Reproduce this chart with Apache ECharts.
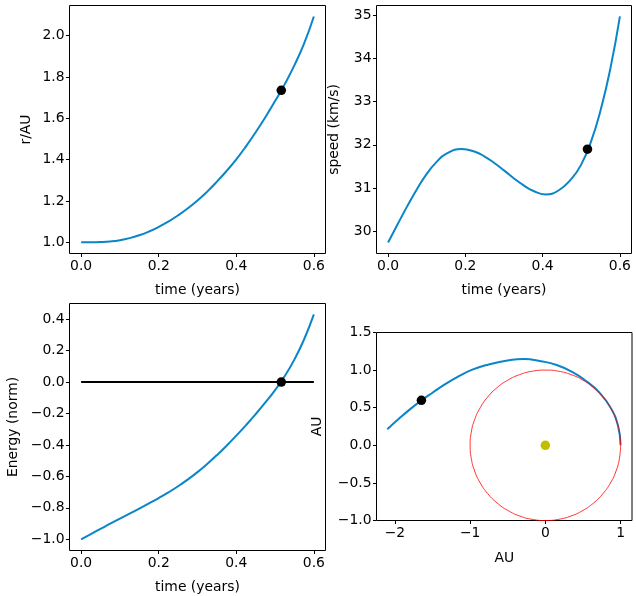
<!DOCTYPE html>
<html>
<head>
<meta charset="utf-8">
<script src="https://cdn.jsdelivr.net/npm/echarts@6/dist/echarts.min.js"></script>
<style>
html,body{margin:0;padding:0;background:#fff;}
#chart{width:636px;height:596px;}
</style>
</head>
<body>
<div id="chart"></div>
<script>
// ---- data ----
const timeYears = [0, 0.025, 0.05, 0.075, 0.1, 0.125, 0.15, 0.175, 0.2, 0.225, 0.25, 0.275, 0.3,
  0.325, 0.35, 0.375, 0.4, 0.425, 0.45, 0.475, 0.5, 0.525, 0.55, 0.575, 0.6];
const radiusAU = [1.000, 1.000, 1.001, 1.004, 1.010, 1.020, 1.034, 1.052, 1.074, 1.100, 1.130, 1.164, 1.202,
  1.245, 1.293, 1.345, 1.401, 1.464, 1.532, 1.605, 1.683, 1.765, 1.857, 1.962, 2.092];
const energyNorm = [-1.000, -0.967, -0.934, -0.901, -0.869, -0.837, -0.805, -0.772, -0.738, -0.702, -0.663, -0.620, -0.573,
  -0.521, -0.465, -0.405, -0.341, -0.274, -0.204, -0.130, -0.051, 0.038, 0.144, 0.272, 0.430];

const speedTime = [0, 0.025, 0.05, 0.075, 0.1, 0.125, 0.15, 0.19, 0.225, 0.25, 0.275, 0.3,
  0.325, 0.35, 0.375, 0.407, 0.44, 0.475, 0.5, 0.525, 0.55, 0.575, 0.6];
const speedKms = [29.745, 30.17, 30.59, 30.98, 31.33, 31.60, 31.79, 31.905, 31.84, 31.73, 31.58, 31.41,
  31.23, 31.07, 30.94, 30.855, 30.94, 31.22, 31.55, 32.07, 32.80, 33.75, 34.97];

const markerTime = [0.516];
const markerRadius = [1.735];
const markerSpeed = [31.9];
const markerEnergy = [0.0];
const markerOrbitX = [-1.648];
const markerOrbitY = [0.598];

const zeroLineTime = [0, 0.6];
const zeroLineEnergy = [0, 0];

const orbitX = [1.000, 0.966, 0.867, 0.710, 0.536, 0.356, 0.150, -0.059, -0.286, -0.524, -0.753, -0.971,
  -1.166, -1.342, -1.500, -1.644, -1.797, -1.955, -2.102];
const orbitY = [0.000, 0.259, 0.501, 0.710, 0.858, 0.977, 1.068, 1.118, 1.147, 1.124, 1.075, 1.006,
  0.911, 0.806, 0.699, 0.599, 0.481, 0.345, 0.214];

const earthOrbitX = [1.000, 0.985, 0.940, 0.866, 0.766, 0.643, 0.500, 0.342, 0.174, 0.000, -0.174, -0.342, -0.500,
  -0.643, -0.766, -0.866, -0.940, -0.985, -1.000, -0.985, -0.940, -0.866, -0.766, -0.643, -0.500, -0.342, -0.174,
  0.000, 0.174, 0.342, 0.500, 0.643, 0.766, 0.866, 0.940, 0.985, 1.000];
const earthOrbitY = [0.000, 0.174, 0.342, 0.500, 0.643, 0.766, 0.866, 0.940, 0.985, 1.000, 0.985, 0.940, 0.866,
  0.766, 0.643, 0.500, 0.342, 0.174, 0.000, -0.174, -0.342, -0.500, -0.643, -0.766, -0.866, -0.940, -0.985,
  -1.000, -0.985, -0.940, -0.866, -0.766, -0.643, -0.500, -0.342, -0.174, 0.000];
const sunX = [0];
const sunY = [0];

// tick labels
const timeTicks = [0.0, 0.2, 0.4, 0.6];
const radiusTicks = [1.0, 1.2, 1.4, 1.6, 1.8, 2.0];
const speedTicks = [30, 31, 32, 33, 34, 35];
const energyTicks = [-1.0, -0.8, -0.6, -0.4, -0.2, 0.0, 0.2, 0.4];
const auXTicks = [-2, -1, 0, 1];
const auYTicks = [-1.0, -0.5, 0.0, 0.5, 1.0, 1.5];

// ---- build ----
const zip = (a, b) => a.map((v, i) => [v, b[i]]);
const FONT = 'DejaVu Sans';
const FS = 13.9;
const BLUE = '#0a86c8';

function fmt(d) {
  return v => Number(v).toFixed(d).replace('-', '\u2212');
}
function axisCfg(gi, min, max, ticks, dec, name, gap, margin) {
  return {
    type: 'value', gridIndex: gi, min: min, max: max,
    name: name, nameLocation: 'middle', nameGap: gap,
    nameTextStyle: {fontFamily: FONT, fontSize: FS, color: '#000'},
    axisLine: {show: false, onZero: false},
    splitLine: {show: false},
    axisTick: {show: true, length: 3.5, customValues: ticks, lineStyle: {color: '#000', width: 1}},
    axisLabel: {customValues: ticks, formatter: fmt(dec), fontFamily: FONT, fontSize: FS, color: '#000', margin: margin}
  };
}
const gridBase = {show: true, borderColor: '#000', borderWidth: 1, backgroundColor: 'transparent'};

const lineS = (xi, yi, data, color, width, z, smooth) => ({
  type: 'line', xAxisIndex: xi, yAxisIndex: yi, data: data, showSymbol: false, symbol: 'none',
  smooth: smooth, lineStyle: {color: color, width: width}, z: z, silent: true
});
const dotS = (xi, yi, data, color, size, z) => ({
  type: 'scatter', xAxisIndex: xi, yAxisIndex: yi, data: data, symbol: 'circle', symbolSize: size,
  itemStyle: {color: color, opacity: 1}, z: z || 5, silent: true
});

const option = {
  animation: false,
  backgroundColor: '#fff',
  grid: [
    Object.assign({left: 69.5, top: 5.5, width: 256, height: 248}, gridBase),
    Object.assign({left: 376.5, top: 5.5, width: 255, height: 248}, gridBase),
    Object.assign({left: 69.5, top: 303.5, width: 256, height: 247}, gridBase),
    Object.assign({left: 376.5, top: 332.5, width: 255.5, height: 188}, gridBase)
  ],
  xAxis: [
    axisCfg(0, -0.03, 0.63, timeTicks, 1, 'time (years)', 30, 6),
    axisCfg(1, -0.03, 0.63, timeTicks, 1, 'time (years)', 30, 6),
    axisCfg(2, -0.03, 0.63, timeTicks, 1, 'time (years)', 30, 6),
    axisCfg(3, -2.245, 1.152, auXTicks, 0, 'AU', 31, 6)
  ],
  yAxis: [
    axisCfg(0, 0.9455, 2.1455, radiusTicks, 1, 'r/AU', 36, 5),
    axisCfg(1, 29.49, 35.22, speedTicks, 0, 'speed (km/s)', 35, 5),
    axisCfg(2, -1.0714, 0.4994, energyTicks, 1, 'Energy (norm)', 49, 5),
    axisCfg(3, -1.0, 1.5, auYTicks, 1, 'AU', 52, 5)
  ],
  series: [
    lineS(0, 0, zip(timeYears, radiusAU), BLUE, 2, 2, 0.5),
    dotS(0, 0, zip(markerTime, markerRadius), '#000', 9.5),
    lineS(1, 1, zip(speedTime, speedKms), BLUE, 2, 2, 0.5),
    dotS(1, 1, zip(markerTime, markerSpeed), '#000', 9.5),
    lineS(2, 2, zip(timeYears, energyNorm), BLUE, 2, 2, 0.5),
    lineS(2, 2, zip(zeroLineTime, zeroLineEnergy), '#000', 2, 3, false),
    dotS(2, 2, zip(markerTime, markerEnergy), '#000', 9.5),
    lineS(3, 3, zip(orbitX, orbitY), BLUE, 2, 2, 0.5),
    lineS(3, 3, zip(earthOrbitX, earthOrbitY), '#ff0000', 0.8, 3, 0.5),
    dotS(3, 3, zip(sunX, sunY), '#bfbf00', 9.5),
    dotS(3, 3, zip(markerOrbitX, markerOrbitY), '#000', 9.5)
  ]
};

const chart = echarts.init(document.getElementById('chart'), null, {renderer: 'canvas'});
chart.setOption(option);
</script>
</body>
</html>
